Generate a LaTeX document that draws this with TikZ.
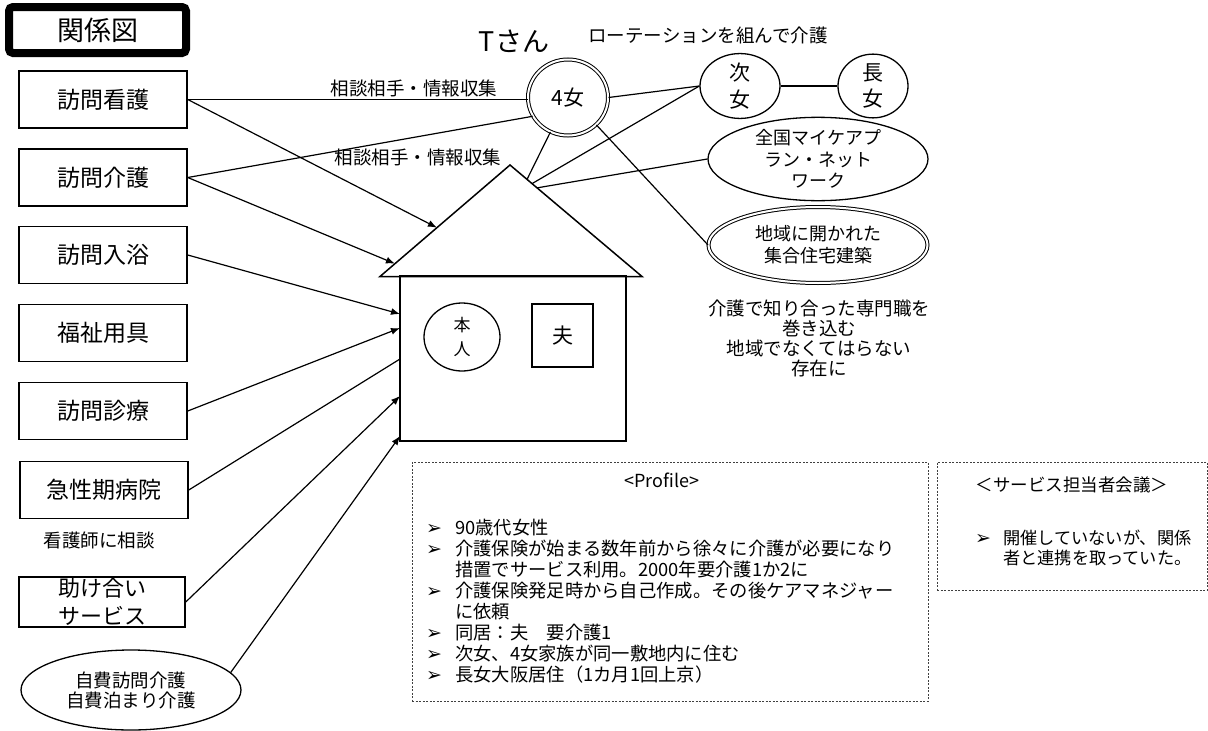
\documentclass[tikz,border=0pt]{standalone}
\usepackage{fontspec}
\setmainfont{Noto Sans CJK JP}
\newfontfamily\symfont{DejaVu Sans}
\usetikzlibrary{shapes.geometric,arrows.meta,calc}
\newcommand\fz[2]{\fontsize{#1}{#2}\selectfont}
\newcommand\bul{{\symfont\fontsize{19}{12}\selectfont ➢}}
\begin{document}
\begin{tikzpicture}[x=1pt,y=-1pt,
  titlebox/.style={draw,line width=8pt,rounded corners=4pt,minimum width=177pt,minimum height=46pt,inner sep=0pt,font=\fz{27}{30}},
  box/.style={draw,line width=1.5pt,minimum width=168pt,minimum height=57pt,inner sep=0pt,font=\fz{23}{28}},
  oval/.style={draw,ellipse,line width=1.3pt,inner sep=0pt,align=center},
  dbl/.style={double,line width=1pt,double distance=2pt},
  link/.style={line width=1.2pt},
  arr/.style={link,-{Latex[length=9pt,width=7pt]}},
  lbl/.style={inner sep=0pt,font=\fz{18.5}{22}},
  dbox/.style={draw=black!75,line width=0.8pt,dash pattern=on 2pt off 1.5pt,inner sep=0pt}]
\useasboundingbox (0,0) rectangle (1208,731);

% title
\node[titlebox] (title) at (97.5,30) {関係図};

% left column
\node[box] (kango) at (103,99.5) {訪問看護};
\node[box] (kaigo) at (103,177.5) {訪問介護};
\node[box] (nyuyoku) at (103,255) {訪問入浴};
\node[box] (fukushi) at (103,333) {福祉用具};
\node[box] (shinryo) at (103,411) {訪問診療};
\node[box] (byoin) at (104,490) {急性期病院};
\node[lbl] (kangoshi) at (99,540) {看護師に相談};
\node[box,minimum width=166pt,minimum height=50pt,align=center,font=\fz{22}{28}] (tasuke) at (102,602) {助け合い\\サービス};
\node[oval,minimum width=220pt,minimum height=80pt,font=\fz{18.5}{20}] (jihi) at (131,690) {自費訪問介護\\自費泊まり介護};

% house
\coordinate (roofL) at (380,276.5);
\coordinate (apex) at (510,165);
\coordinate (roofR) at (642,276.5);
\draw[line width=1.5pt,line join=miter] (roofL) -- (apex) -- (roofR) -- cycle;
\node[draw,line width=1.5pt,minimum width=226pt,minimum height=165pt,inner sep=0pt] (body) at (513,358.5) {};
\node[oval,minimum width=76pt,minimum height=68pt,font=\fz{17}{24}] (honnin) at (462,337) {本\\人};
\node[draw,line width=1.3pt,minimum width=61pt,minimum height=63pt,inner sep=0pt,font=\fz{21}{24}] (otto) at (562.5,335.5) {夫};

% top
\node[inner sep=0pt,font=\fz{27}{30}] (tsan) at (514,41) {Tさん};
\node[lbl] (rot) at (708,35) {ローテーションを組んで介護};
\node[oval,dbl,minimum width=80pt,minimum height=76pt,font=\fz{21}{24}] (yon) at (568,97.5) {4女};
\node[oval,minimum width=80pt,minimum height=62pt,font=\fz{21}{26.5}] (jijo) at (740,86) {次\\女};
\node[oval,minimum width=70pt,minimum height=62pt,font=\fz{21}{26.5}] (chojo) at (873,86) {長\\女};
\node[oval,minimum width=220pt,minimum height=82pt,font=\fz{18}{21.5}] (zenkoku) at (818,159) {全国マイケアプ\\ラン・ネット\\ワーク};
\node[oval,dbl,minimum width=219pt,minimum height=76pt,font=\fz{18}{22}] (chiiki) at (818,245) {地域に開かれた\\集合住宅建築};
\node[lbl,align=center,font=\fz{18.5}{20.3}] (senmon) at (819,338.5) {介護で知り合った専門職を\\巻き込む\\地域でなくてはらない\\存在に};

\node[lbl] (sodan1) at (414,88) {相談相手・情報収集};
\node[lbl] (sodan2) at (418,157) {相談相手・情報収集};

% arrow end points on the house
\coordinate (a1) at ($(roofL)!0.438!(apex)$);
\coordinate (a2) at ($(roofL)!0.115!(apex)$);
\coordinate (a3) at (400,314);
\coordinate (a4) at (400,328);
\coordinate (a5) at (400,359);
\coordinate (a6) at (400,396);
\coordinate (a7) at (400,436);
\coordinate (r1) at ($(apex)!0.129!(roofR)$);
\coordinate (r2) at ($(apex)!0.167!(roofR)$);
\coordinate (r3) at ($(apex)!0.205!(roofR)$);

% connectors
\draw[link] (kango.east) -- (kango.east -| yon.west);
\draw[arr] (kango.east) -- (a1);
\draw[link] (kaigo.east) -- (yon.208);
\draw[arr] (kaigo.east) -- (a2);
\draw[arr] (nyuyoku.east) -- (a3);
\draw[arr] (shinryo.east) -- (a4);
\draw[link] (byoin.east) -- (a5);
\draw[arr] (tasuke.east) -- (a6);
\draw[arr] (jihi.10) -- (a7);

\draw[link] (yon.east) -- (jijo.west);
\draw[link] (yon.243) -- (r1);
\draw[link] (r2) -- (jijo.west);
\draw[link] (r3) -- (zenkoku.west);
\draw[link] (yon.-44) -- (chiiki.west);
\draw[link] (jijo.east) -- (chojo.west);

% profile
\node[dbox,minimum width=516pt,minimum height=239pt] (profile) at (670,581.5) {};
\node[inner sep=0pt,font=\fz{18}{20}] (proftitle) at (662,480) {<Profile>};
\node[anchor=north west,inner sep=0pt,font=\fz{18.3}{18.6}] (proflist) at (426,518.5) {%
\begin{tabular}{@{}p{29pt}@{}l@{}}
\bul & 90歳代女性\\
\bul & 介護保険が始まる数年前から徐々に介護が必要になり\\
 & 措置でサービス利用。2000年要介護1か2に\\
\bul & 介護保険発足時から自己作成。その後ケアマネジャー\\
 & に依頼\\
\bul & 同居：夫　要介護1\\
\bul & 次女、4女家族が同一敷地内に住む\\
\bul & 長女大阪居住（1カ月1回上京）
\end{tabular}};

% service meeting
\node[dbox,minimum width=270pt,minimum height=128pt] (service) at (1072,526) {};
\node[inner sep=0pt,font=\fz{17.5}{20}] (servtitle) at (1072,485) {＜サービス担当者会議＞};
\node[anchor=north west,inner sep=0pt,font=\fz{17.2}{20}] (servlist) at (975,529.5) {%
\begin{tabular}{@{}p{28pt}@{}l@{}}
\bul & 開催していないが、関係\\
 & 者と連携を取っていた。
\end{tabular}};
\end{tikzpicture}
\end{document}
